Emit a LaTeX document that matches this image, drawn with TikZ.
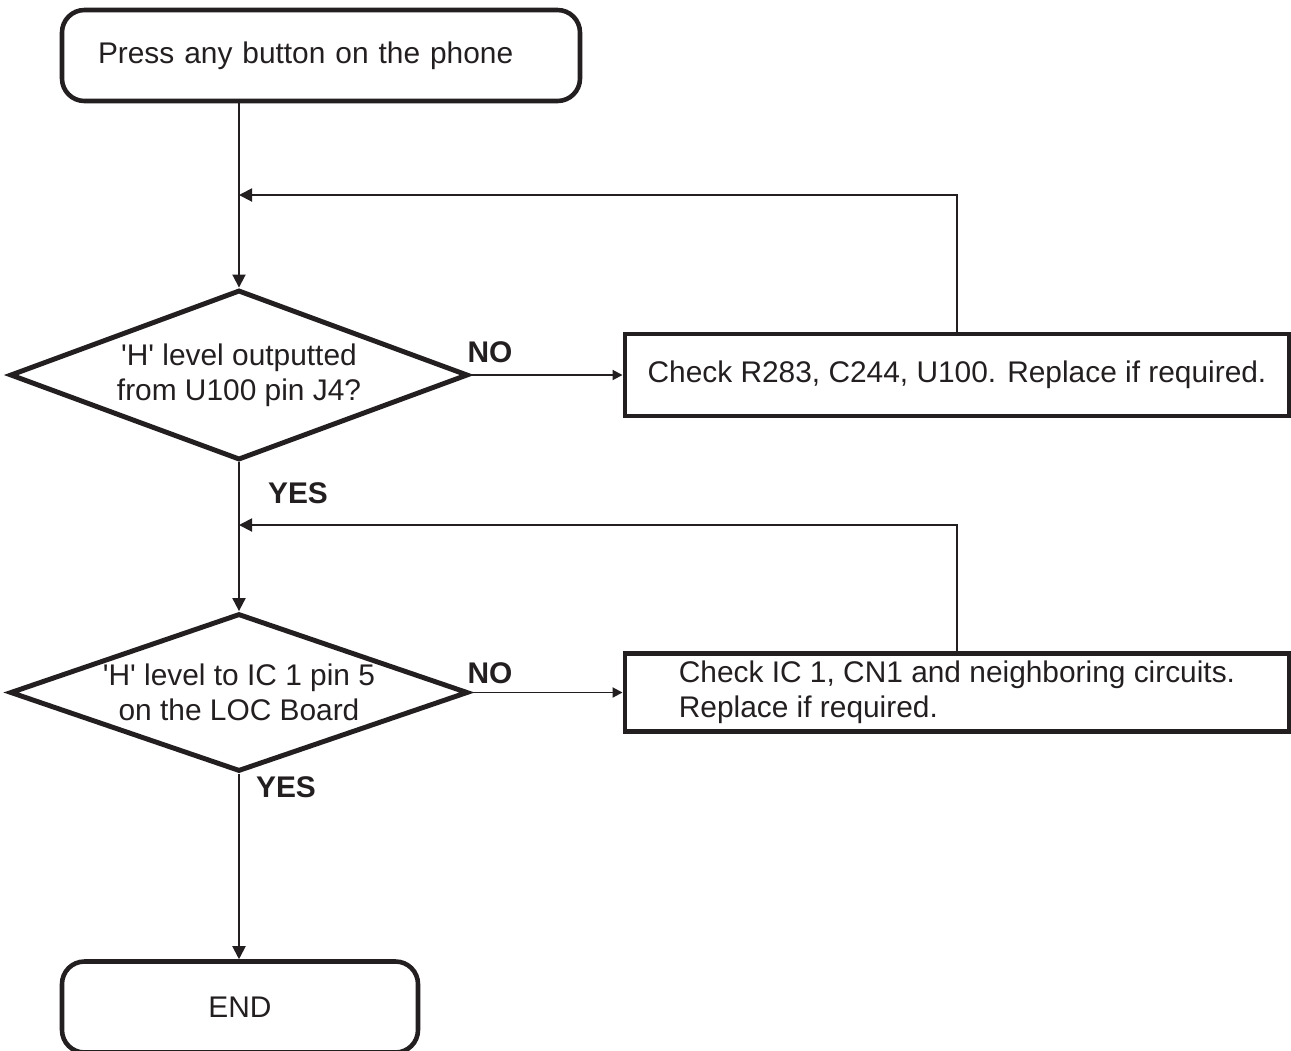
\documentclass[tikz,border=0pt]{standalone}
\usepackage{fontspec}
\setmainfont{Liberation Sans}
\usetikzlibrary{shapes.geometric}
\usetikzlibrary{arrows.meta}
\definecolor{ink}{HTML}{231F20}

\begin{document}
\begin{tikzpicture}[every node/.style={font=\fontsize{17}{20}\selectfont, text=ink}]
  \tikzstyle{flow} = [draw=ink, line width=1.1pt]
  \tikzstyle{flow arrow} = [flow, -{Triangle[length=2.6mm,width=2.6mm]}]
  \tikzstyle{side arrow} = [flow, -{Triangle[length=2mm,width=2mm]}]
  \tikzstyle{terminal} = [draw=ink, line width=2.6pt, rounded corners=0.45cm, minimum height=1.82cm]
  \tikzstyle{decision} = [draw=ink, diamond, line width=2.8pt, aspect=2.7, inner sep=0pt,
                          minimum width=9.16cm, minimum height=3.4cm, align=center]
  \tikzstyle{action} = [draw=ink, line width=2.8pt, minimum width=13.28cm, minimum height=1.64cm]
  \tikzstyle{answer} = [font=\fontsize{17}{20}\selectfont\bfseries]
  \useasboundingbox (0,0) rectangle (25.82,-21);

  % blocks
  \node[terminal, minimum width=10.36cm, text width=8.92cm, inner xsep=0.72cm, align=left]
    (press) at (6.42,-1.11) {Press any button on the phone};
  \node[decision] (level) at (4.78,-7.5)
    {\textquotesingle H\textquotesingle{} level outputted\\from U100 pin J4?};
  \node[action] (fixa) at (19.14,-7.5) {Check R283, C244, U100. Replace if required.};
  \node[decision, minimum height=2.9cm] (ic) at (4.78,-13.85)
    {\textquotesingle H\textquotesingle{} level to IC 1 pin 5\\on the LOC Board};
  \node[action, minimum height=1.56cm, align=left] (fixb) at (19.14,-13.85)
    {Check IC 1, CN1 and neighboring circuits.\\Replace if required.};
  \node[terminal, minimum width=7.12cm] (end) at (4.8,-20.14) {END};

  % answers
  \node[answer] (noa) at (9.8,-7.04) {NO};
  \node[answer] (yesa) at (5.96,-9.86) {YES};
  \node[answer] (nob) at (9.8,-13.46) {NO};
  \node[answer] (yesb) at (5.72,-15.74) {YES};

  % connectors
  \coordinate (backa) at (4.78,-3.9);
  \coordinate (backb) at (4.78,-10.5);
  \draw[flow arrow] (press.south -| level.north) -- (level.north);
  \draw[flow arrow] (fixa.north) |- (backa);
  \draw[flow arrow] (level.south) -- (ic.north);
  \draw[flow arrow] (fixb.north) |- (backb);
  \draw[flow arrow] (ic.south) -- (ic.south |- end.north);
  \draw[side arrow] (level.east) -- (fixa.west);
  \draw[side arrow] (ic.east) -- (fixb.west);
\end{tikzpicture}
\end{document}
